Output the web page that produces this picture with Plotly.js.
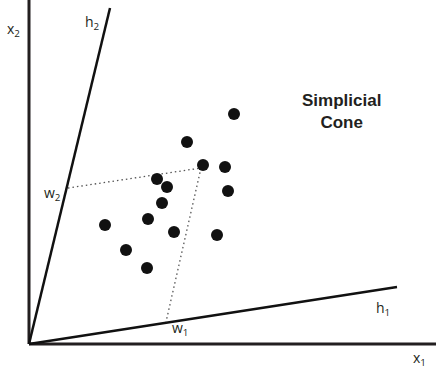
<!DOCTYPE html>
<html>
<head>
<meta charset="utf-8">
<script src="https://cdn.plot.ly/plotly-3.0.1.min.js"></script>
<style>html,body{margin:0;padding:0;background:#fff;}#chart{width:436px;height:376px;}</style>
</head>
<body>
<div id="chart"></div>
<script>
// Data points (x1, x2) in chart units; origin at the cone apex
var pointsX = [205, 158, 174, 196, 128, 138, 199, 133, 76, 119, 145, 188, 97, 118];
var pointsY = [230, 202, 179, 177, 165, 157, 153, 141, 119, 125, 112, 109, 94, 76];
// Cone generators h1 and h2 (end points)
var h1End = [368, 57];
var h2End = [81, 336];
// Projection point and its projections onto h2 (w2) and h1 (w1)
var projPoint = [172, 176];
var w2Point = [39, 156];
var w1Point = [137, 22];
// Axis extents
var xAxisEnd = 407;
var yAxisEnd = 344;

var axisColor = '#231f20';
var traces = [
  {x: [0, xAxisEnd], y: [0, 0], mode: 'lines', line: {color: axisColor, width: 3}, hoverinfo: 'skip'},
  {x: [0, 0], y: [0, yAxisEnd], mode: 'lines', line: {color: axisColor, width: 3}, hoverinfo: 'skip'},
  {x: [0, h1End[0]], y: [0, h1End[1]], mode: 'lines', line: {color: '#111', width: 2.5}, hoverinfo: 'skip'},
  {x: [0, h2End[0]], y: [0, h2End[1]], mode: 'lines', line: {color: '#111', width: 2.5}, hoverinfo: 'skip'},
  {x: [w2Point[0], projPoint[0]], y: [w2Point[1], projPoint[1]], mode: 'lines', line: {color: '#555', width: 1.3, dash: '1.5px,3px'}, hoverinfo: 'skip'},
  {x: [projPoint[0], w1Point[0]], y: [projPoint[1], w1Point[1]], mode: 'lines', line: {color: '#555', width: 1.3, dash: '1.5px,3px'}, hoverinfo: 'skip'},
  {x: pointsX, y: pointsY, mode: 'markers', marker: {color: '#111', size: 12}, hoverinfo: 'skip'}
];

function lbl(x, y, t) {
  return {x: x, y: y, xref: 'x', yref: 'y', text: t, showarrow: false,
    font: {family: 'Open Sans, DejaVu Sans, sans-serif', size: 14, color: '#231f20'}};
}
var annotations = [
  lbl(-16, 315, 'x<sub>2</sub>'),
  lbl(63, 322, 'h<sub>2</sub>'),
  lbl(23, 151, 'w<sub>2</sub>'),
  lbl(151, 16, 'w<sub>1</sub>'),
  lbl(354, 36, 'h<sub>1</sub>'),
  lbl(390, -14, 'x<sub>1</sub>'),
  {x: 312, y: 233, xref: 'x', yref: 'y', text: '<b>Simplicial<br>Cone</b>', showarrow: false,
   font: {family: 'Liberation Sans, Arial, sans-serif', size: 17, color: '#231f20'}}
];

var layout = {
  width: 436, height: 376,
  margin: {l: 0, r: 0, t: 0, b: 0},
  paper_bgcolor: '#fff', plot_bgcolor: '#fff',
  showlegend: false,
  xaxis: {range: [-29, 407], visible: false, fixedrange: true},
  yaxis: {range: [-32, 344], visible: false, fixedrange: true},
  annotations: annotations
};
Plotly.newPlot('chart', traces, layout, {displayModeBar: false, staticPlot: true});
</script>
</body>
</html>
